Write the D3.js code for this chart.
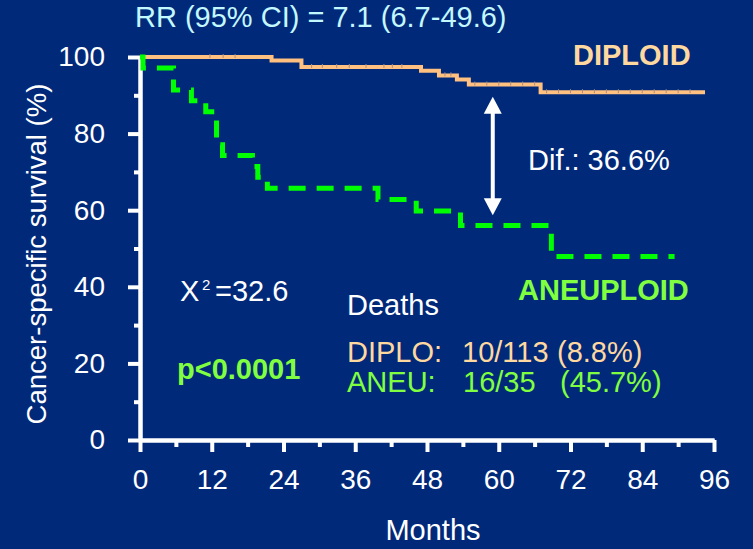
<!DOCTYPE html>
<html>
<head>
<meta charset="utf-8">
<script src="https://cdn.jsdelivr.net/npm/d3@7"></script>
<style>
  body { margin: 0; background: #00297a; }
  svg text { font-family: "Liberation Sans", Arial, sans-serif; }
</style>
</head>
<body>
<div id="chart"></div>
<script>
let width = 753;
let height = 549;

// Kaplan-Meier steps: [month, survival %]
let diploidSteps = [[0, 100], [22, 99.1], [27, 97.4], [47, 96.4], [50, 95.2], [53, 94.1], [55, 92.8], [67, 90.8], [94.5, 90.8]];
let aneuploidSteps = [[0, 100], [0.5, 97.1], [5.6, 91.4], [8.6, 88.6], [11, 85.7], [12.8, 77.1], [13.8, 74.3], [18.8, 71.4], [19.7, 68.6], [21.3, 65.7], [39.8, 62.8], [46.2, 59.8], [53.6, 56], [68.8, 47.9], [89.4, 47.9]];
// censored observations on the diploid curve (months)
let diploidCensored = [11.7, 13.9, 15.9, 28.7, 30.5, 32.9, 35, 37.8, 40.8, 42.2, 43.8, 51, 52, 56, 58, 60, 62, 64, 66, 68, 70, 72, 74, 76, 78, 80, 82, 84, 86, 88, 90, 92];

let xTicks = [0, 12, 24, 36, 48, 60, 72, 84, 96];
let xMinor = [6, 18, 30, 42, 54, 66, 78, 90];
let yTicks = [0, 20, 40, 60, 80, 100];
let yMinor = [10, 30, 50, 70, 90];

// difference arrow at month 59, between the two curves
let arrowMonth = 59;
let arrowRange = [58.7, 89.6];

let svg = d3.select("#chart").append("svg")
    .attr("width", width)
    .attr("height", height);

svg.append("rect").attr("width", width).attr("height", height).attr("fill", "#00297a");

let x = d3.scaleLinear().domain([0, 96]).range([140, 714]);
let y = d3.scaleLinear().domain([0, 100]).range([440, 57]);

// axes
svg.append("g")
    .attr("transform", "translate(" + x(0) + ",0)")
    .call(d3.axisLeft(y).tickValues(yTicks).tickSize(12).tickSizeOuter(0).tickPadding(23));
svg.append("g")
    .attr("transform", "translate(" + x(0) + ",0)")
    .call(d3.axisLeft(y).tickValues(yMinor).tickSize(6).tickSizeOuter(0).tickFormat(""));

svg.append("g")
    .attr("transform", "translate(0," + y(0) + ")")
    .call(d3.axisBottom(x).tickValues(xTicks).tickSize(12).tickSizeOuter(0).tickPadding(17));
svg.append("g")
    .attr("transform", "translate(0," + y(0) + ")")
    .call(d3.axisBottom(x).tickValues(xMinor).tickSize(7).tickSizeOuter(0).tickFormat(""));

svg.selectAll(".domain, .tick line")
    .attr("stroke", "#fff")
    .attr("stroke-width", 4);
svg.selectAll(".tick text")
    .attr("fill", "#fff")
    .attr("font-size", 28)
    .attr("font-family", "Liberation Sans, Arial, sans-serif");

// curves
let line = d3.line()
    .x(d => x(d[0]))
    .y(d => y(d[1]))
    .curve(d3.curveStepAfter);

svg.append("path")
    .datum(diploidSteps)
    .attr("d", line)
    .attr("fill", "none")
    .attr("stroke", "#ffc080")
    .attr("stroke-width", 4);

function survivalAt(steps, t) {
    let s = steps[0][1];
    steps.forEach(function(d) { if (d[0] <= t) s = d[1]; });
    return s;
}

svg.selectAll(".censor")
    .data(diploidCensored)
    .enter().append("line")
    .attr("class", "censor")
    .attr("x1", d => x(d)).attr("x2", d => x(d))
    .attr("y1", d => y(survivalAt(diploidSteps, d)) - 3)
    .attr("y2", d => y(survivalAt(diploidSteps, d)) + 1)
    .attr("stroke", "#a89080")
    .attr("stroke-width", 1);

svg.append("path")
    .datum(aneuploidSteps)
    .attr("d", line)
    .attr("fill", "none")
    .attr("stroke", "#00ff00")
    .attr("stroke-width", 5)
    .attr("stroke-dasharray", "17,11");

// double headed arrow
let ax = x(arrowMonth);
let aTop = y(arrowRange[1]);
let aBot = y(arrowRange[0]);
svg.append("line")
    .attr("x1", ax).attr("x2", ax)
    .attr("y1", aTop + 12).attr("y2", aBot - 12)
    .attr("stroke", "#fff").attr("stroke-width", 4);
svg.append("path")
    .attr("d", "M" + ax + "," + aTop + "L" + (ax - 9) + "," + (aTop + 17) + "L" + (ax + 9) + "," + (aTop + 17) + "Z")
    .attr("fill", "#fff");
svg.append("path")
    .attr("d", "M" + ax + "," + aBot + "L" + (ax - 9) + "," + (aBot - 17) + "L" + (ax + 9) + "," + (aBot - 17) + "Z")
    .attr("fill", "#fff");

// texts
function label(txt, px, py, opts) {
    opts = opts || {};
    return svg.append("text")
        .attr("x", px).attr("y", py)
        .attr("fill", opts.fill || "#fff")
        .attr("font-size", opts.size || 29)
        .attr("font-weight", opts.bold ? "bold" : "normal")
        .attr("text-anchor", opts.anchor || "start")
        .text(txt);
}

label("RR (95% CI) = 7.1 (6.7-49.6)", 135, 27, {fill: "#c4f8ff", size: 29});
label("DIPLOID", 573, 65, {fill: "#ffd8a0", bold: true});
label("Dif.: 36.6%", 528, 170);
label("ANEUPLOID", 518, 300, {fill: "#80ff40", bold: true});
label("X", 180, 301);
label("2", 202, 290, {size: 15});
label("=32.6", 215, 301);
label("p<0.0001", 177, 379, {fill: "#80ff40", bold: true});
label("Deaths", 347, 315);
label("DIPLO:", 347, 362, {fill: "#ffd8a0"});
label("10/113", 462, 362, {fill: "#ffd8a0"});
label("(8.8%)", 557, 362, {fill: "#ffd8a0"});
label("ANEU:", 347, 392, {fill: "#80ff40"});
label("16/35", 463, 392, {fill: "#80ff40"});
label("(45.7%)", 560, 392, {fill: "#80ff40"});
label("Months", 433, 540, {anchor: "middle", size: 29});

svg.append("text")
    .attr("transform", "translate(46,254) rotate(-90)")
    .attr("text-anchor", "middle")
    .attr("fill", "#fff")
    .attr("font-size", 27.5)
    .text("Cancer-specific survival (%)");
</script>
</body>
</html>
